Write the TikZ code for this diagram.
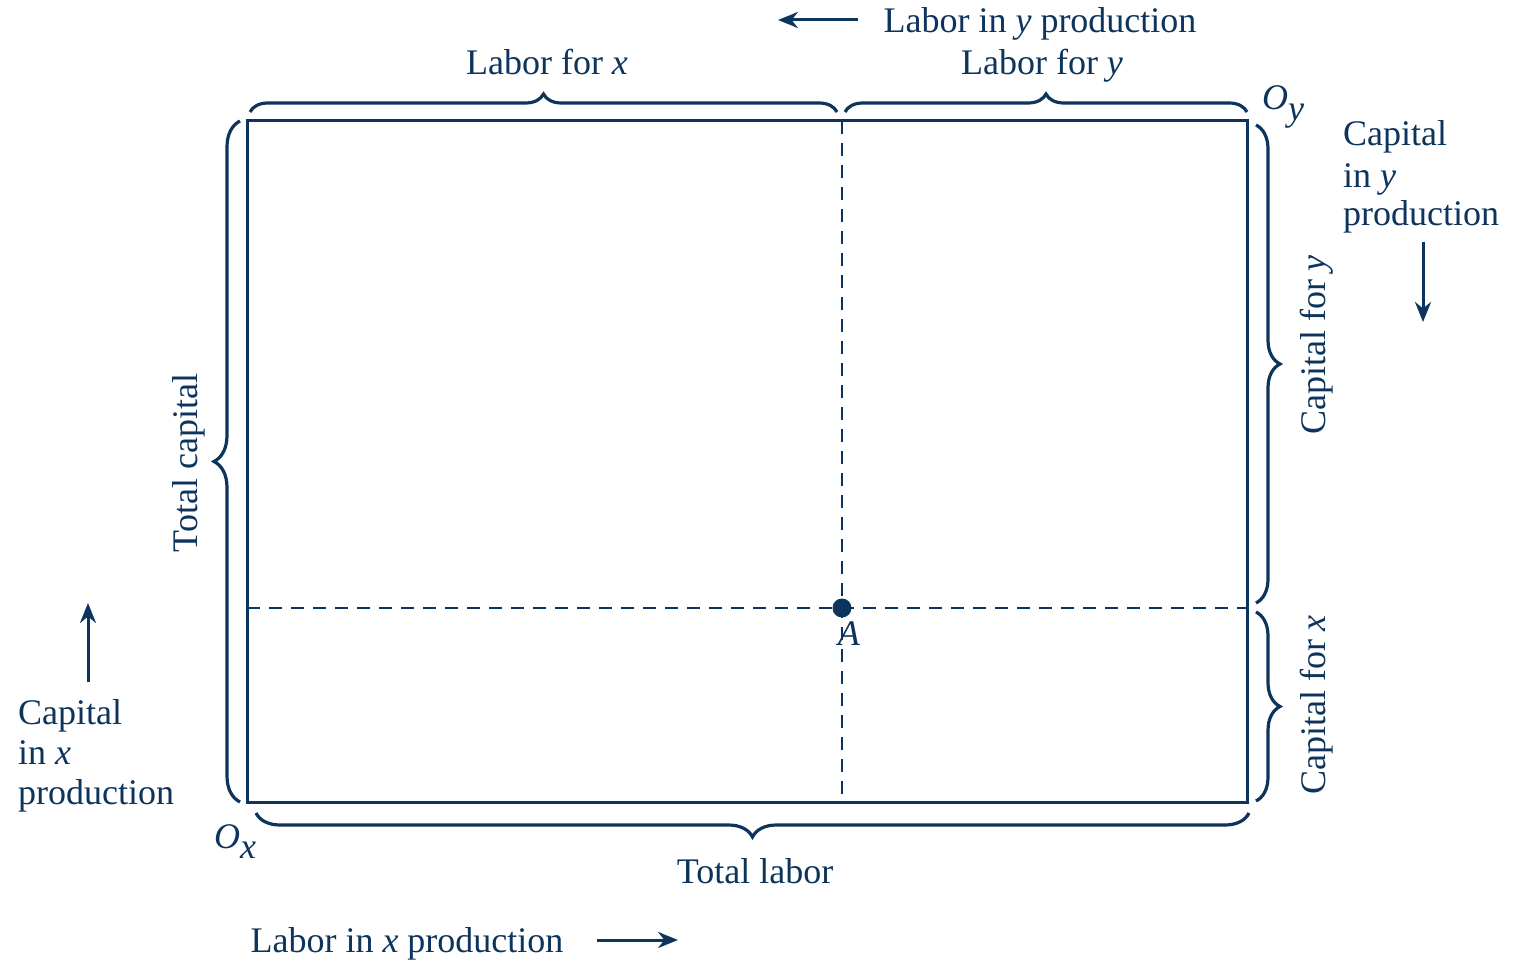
\documentclass[tikz,border=0pt]{standalone}
\usepackage{fontspec}
\setmainfont{Liberation Serif}
\usetikzlibrary{decorations.pathreplacing,arrows.meta}
\definecolor{navy}{RGB}{12,52,92}
\tikzset{
  lbl/.style={text=navy,inner sep=0pt,font=\fontsize{36}{42}\selectfont},
  brc/.style={draw=navy,line width=3.2pt,decorate,decoration={brace,amplitude=#1}},
  dsh/.style={draw=navy,line width=2.8pt,dash pattern=on 13pt off 9pt},
  arr/.style={draw=navy,line width=3pt,-{Stealth[length=20pt,width=16pt]}},
}
\newcommand{\vx}{\textit{x}}
\newcommand{\vy}{\textit{y}}
\begin{document}
\begin{tikzpicture}[x=1pt,y=-1pt]
\useasboundingbox (0,0) rectangle (1516,960);
% corners
\coordinate (ox) at (247,802);
\coordinate (tl) at (247,121);
\coordinate (oy) at (1247,121);
\coordinate (br) at (1247,802);
\coordinate (vt) at (842,121);
\coordinate (vb) at (842,802);
\coordinate (hl) at (247,608);
\coordinate (hr) at (1247,608);
% dashed lines
\draw[dsh] (vt) -- (vb);
\draw[dsh] (hl) -- (hr);
% box
\draw[navy,line width=3pt] (ox) rectangle (oy);
% point A
\node[circle,fill=navy,inner sep=0pt,minimum size=19pt] (A) at (842,608) {};
\node[lbl,anchor=base] (Alab) at (849,645) {\textit{A}};
% top braces
\coordinate (b1s) at (250,112); \coordinate (b1e) at (837,112);
\coordinate (b2s) at (845,112); \coordinate (b2e) at (1247,112);
\draw[brc=18pt] (b1s) -- (b1e);
\draw[brc=18pt] (b2s) -- (b2e);
\node[lbl,anchor=base] (lfx) at (547,75) {Labor for \vx};
\node[lbl,anchor=base] (lfy) at (1042,75) {Labor for \vy};
\node[lbl,anchor=base] (liy) at (1040,33) {Labor in \vy\ production};
\coordinate (a1s) at (858,20); \coordinate (a1e) at (778,20);
\draw[arr] (a1s) -- (a1e);
% O_y
\node[lbl,anchor=base west] (Oy) at (1262,110) {\textit{O}\raisebox{-0.3em}{\vy}};
% right braces
\coordinate (r1s) at (1256,125); \coordinate (r1e) at (1256,603);
\coordinate (r2s) at (1256,612); \coordinate (r2e) at (1256,801);
\draw[brc=24pt] (r1s) -- (r1e);
\draw[brc=24pt] (r2s) -- (r2e);
\node[lbl,anchor=base,rotate=90] (cfy) at (1325,345) {Capital for \vy};
\node[lbl,anchor=base,rotate=90] (cfx) at (1325,705) {Capital for \vx};
% capital in y production
\node[lbl,anchor=base west] (ciy1) at (1343,146) {Capital};
\node[lbl,anchor=base west] (ciy2) at (1343,188) {in \vy};
\node[lbl,anchor=base west] (ciy3) at (1343,226) {production};
\coordinate (a2s) at (1423,242); \coordinate (a2e) at (1423,322);
\draw[arr] (a2s) -- (a2e);
% left brace
\coordinate (l1s) at (240,802); \coordinate (l1e) at (240,121);
\draw[brc=26pt] (l1s) -- (l1e);
\node[lbl,anchor=base,rotate=90] (tc) at (197,463) {Total capital};
% capital in x production
\coordinate (a3s) at (88,682); \coordinate (a3e) at (88,603);
\draw[arr] (a3s) -- (a3e);
\node[lbl,anchor=base west] (cix1) at (18,724) {Capital};
\node[lbl,anchor=base west] (cix2) at (18,764) {in \vx};
\node[lbl,anchor=base west] (cix3) at (18,804) {production};
% O_x
\node[lbl,anchor=base west] (Ox) at (214,848) {\textit{O}\raisebox{-0.3em}{\vx}};
% bottom brace
\coordinate (d1s) at (1249,813); \coordinate (d1e) at (256,813);
\draw[brc=24pt] (d1s) -- (d1e);
\node[lbl,anchor=base] (tlab) at (755,883) {Total labor};
% labor in x production
\node[lbl,anchor=base] (lix) at (407,952) {Labor in \vx\ production};
\coordinate (a4s) at (597,940); \coordinate (a4e) at (678,940);
\draw[arr] (a4s) -- (a4e);
\end{tikzpicture}
\end{document}
